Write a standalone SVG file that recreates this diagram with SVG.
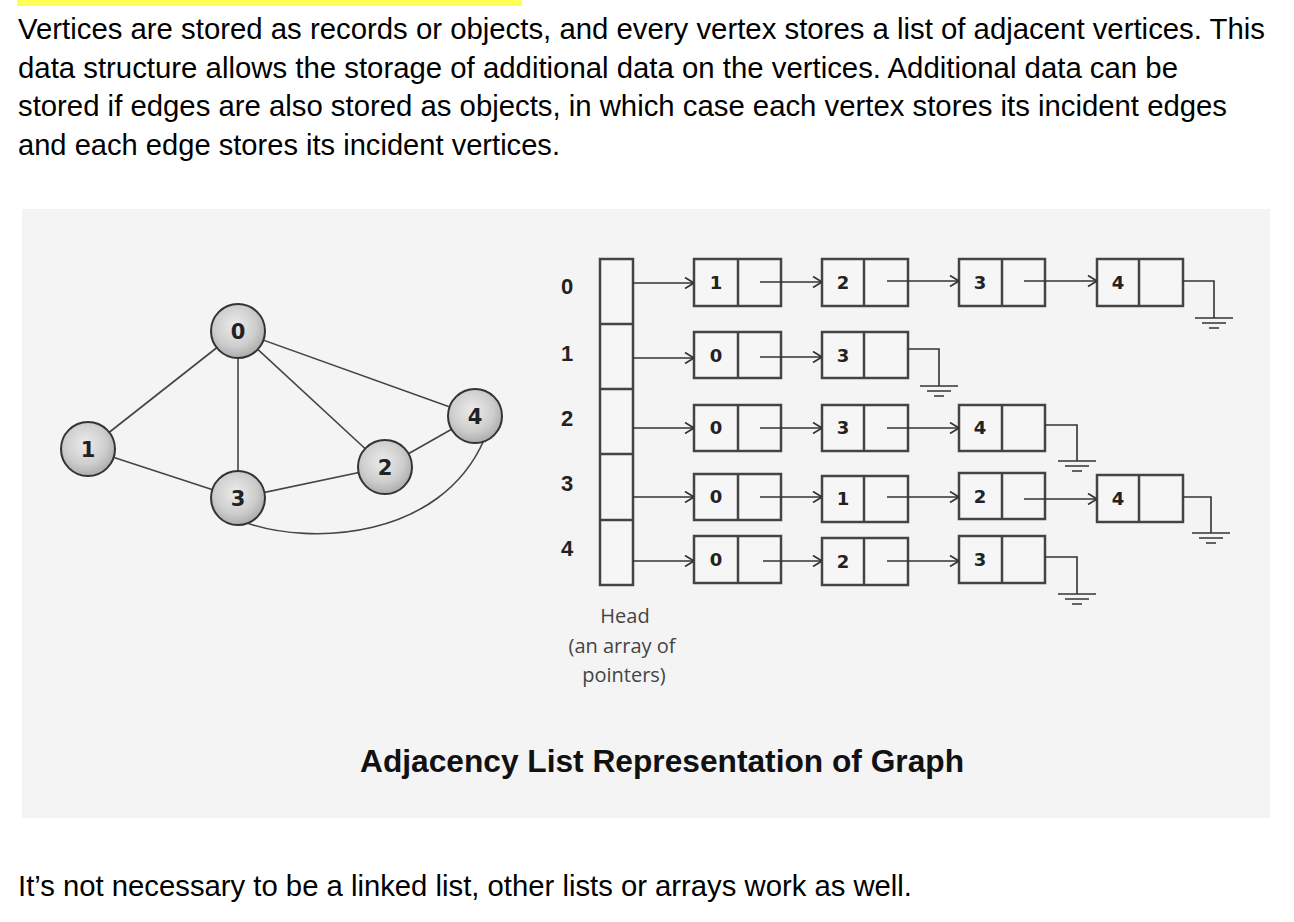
<svg xmlns="http://www.w3.org/2000/svg" width="1294" height="922" viewBox="0 0 1294 922">
<style>
.para{font-family:"Liberation Sans",Arial,sans-serif;font-size:29.3px;fill:#000}
.cap{font-family:"Liberation Sans",Arial,sans-serif;font-size:31.7px;font-weight:bold;fill:#111}
.rowlbl{font-family:"Liberation Sans",Arial,sans-serif;font-size:22px;font-weight:bold;fill:#222;text-anchor:middle}
.num{font-family:"DejaVu Sans",Verdana,sans-serif;font-size:18px;font-weight:bold;fill:#222;text-anchor:middle}
.nodelbl{font-family:"DejaVu Sans",Verdana,sans-serif;font-size:21px;font-weight:bold;fill:#222;text-anchor:middle}
.head{font-family:"Open Sans","Noto Sans",sans-serif;font-size:20px;fill:#444;text-anchor:middle}
.box{fill:#f6f6f6;stroke:#444;stroke-width:2.5}
.div{stroke:#444;stroke-width:2.5}
.arr{stroke:#333;stroke-width:1.6;fill:none}
.gnd{stroke:#333;stroke-width:1.6;fill:none}
.edge{stroke:#444;stroke-width:1.6;fill:none}
.vtx{fill:url(#vg);stroke:#333;stroke-width:2}
</style>
<defs>
<marker id="ah" viewBox="0 0 10 12" refX="10" refY="6" markerWidth="10" markerHeight="12" markerUnits="userSpaceOnUse" orient="auto">
<path d="M1,0.5 L10,6 L1,11.5" fill="none" stroke="#333" stroke-width="1.7"/>
</marker>
<radialGradient id="vg" cx="0.45" cy="0.4" r="0.65">
<stop offset="0" stop-color="#ececec"/>
<stop offset="0.6" stop-color="#cdcdcd"/>
<stop offset="1" stop-color="#a5a5a5"/>
</radialGradient>
<g id="ground">
<path class="gnd" d="M-19,0 H19 M-12,5 H12 M-5,10 H5"/>
</g>
</defs>
<rect width="1294" height="922" fill="#ffffff"/>
<rect x="17" y="0" width="505" height="6" fill="#ffff55"/>
<g id="paragraph">
<text class="para" x="18" y="39" textLength="1247" lengthAdjust="spacingAndGlyphs">Vertices are stored as records or objects, and every vertex stores a list of adjacent vertices. This</text>
<text class="para" x="18" y="78" textLength="1160" lengthAdjust="spacingAndGlyphs">data structure allows the storage of additional data on the vertices. Additional data can be</text>
<text class="para" x="18" y="116" textLength="1209" lengthAdjust="spacingAndGlyphs">stored if edges are also stored as objects, in which case each vertex stores its incident edges</text>
<text class="para" x="18" y="155" textLength="542" lengthAdjust="spacingAndGlyphs">and each edge stores its incident vertices.</text>
</g>
<rect id="panel" x="22" y="209" width="1248" height="609" fill="#f4f4f4"/>
<g id="graph-edges">
<line class="edge" x1="238" y1="331" x2="88" y2="449"/>
<line class="edge" x1="238" y1="331" x2="238" y2="498"/>
<line class="edge" x1="238" y1="331" x2="385" y2="467"/>
<line class="edge" x1="238" y1="331" x2="475" y2="416"/>
<line class="edge" x1="88" y1="449" x2="238" y2="498"/>
<line class="edge" x1="238" y1="498" x2="385" y2="467"/>
<line class="edge" x1="385" y1="467" x2="475" y2="416"/>
<path class="edge" d="M247,523 C310,545 440,540 484,440"/>
</g>
<g id="v0"><circle class="vtx" cx="238" cy="331" r="27"/><text class="nodelbl" x="238" y="339">0</text></g>
<g id="v1"><circle class="vtx" cx="88" cy="449" r="27"/><text class="nodelbl" x="88" y="457">1</text></g>
<g id="v2"><circle class="vtx" cx="385" cy="467" r="27"/><text class="nodelbl" x="385" y="475">2</text></g>
<g id="v3"><circle class="vtx" cx="238" cy="498" r="27"/><text class="nodelbl" x="238" y="506">3</text></g>
<g id="v4"><circle class="vtx" cx="475" cy="416" r="27"/><text class="nodelbl" x="475" y="424">4</text></g>
<g id="row-labels">
<text class="rowlbl" x="567" y="294">0</text>
<text class="rowlbl" x="567" y="361">1</text>
<text class="rowlbl" x="567" y="426">2</text>
<text class="rowlbl" x="567" y="491">3</text>
<text class="rowlbl" x="567" y="556">4</text>
</g>
<g id="head-array">
<rect class="box" x="600" y="259" width="33" height="326"/>
<path class="div" d="M600,324 H633 M600,389 H633 M600,454 H633 M600,520 H633"/>
</g>
<g id="head-label">
<text class="head" x="625" y="623">Head</text>
<text class="head" x="622" y="653">(an array of</text>
<text class="head" x="624" y="682">pointers)</text>
</g>
<g id="list-nodes">
<g id="r0c1"><rect class="box" x="694" y="259" width="87" height="47"/><line class="div" x1="738" y1="259" x2="738" y2="306"/><text class="num" x="716" y="289">1</text></g>
<g id="r0c2"><rect class="box" x="822" y="259" width="86" height="47"/><line class="div" x1="864" y1="259" x2="864" y2="306"/><text class="num" x="843" y="289">2</text></g>
<g id="r0c3"><rect class="box" x="959" y="259" width="86" height="47"/><line class="div" x1="1002" y1="259" x2="1002" y2="306"/><text class="num" x="980" y="289">3</text></g>
<g id="r0c4"><rect class="box" x="1097" y="259" width="86" height="47"/><line class="div" x1="1139" y1="259" x2="1139" y2="306"/><text class="num" x="1118" y="289">4</text></g>
<g id="r1c1"><rect class="box" x="694" y="332" width="87" height="46"/><line class="div" x1="738" y1="332" x2="738" y2="378"/><text class="num" x="716" y="362">0</text></g>
<g id="r1c2"><rect class="box" x="822" y="332" width="86" height="46"/><line class="div" x1="864" y1="332" x2="864" y2="378"/><text class="num" x="843" y="362">3</text></g>
<g id="r2c1"><rect class="box" x="694" y="405" width="87" height="46"/><line class="div" x1="738" y1="405" x2="738" y2="451"/><text class="num" x="716" y="434">0</text></g>
<g id="r2c2"><rect class="box" x="822" y="405" width="86" height="46"/><line class="div" x1="864" y1="405" x2="864" y2="451"/><text class="num" x="843" y="434">3</text></g>
<g id="r2c3"><rect class="box" x="959" y="405" width="86" height="46"/><line class="div" x1="1002" y1="405" x2="1002" y2="451"/><text class="num" x="980" y="434">4</text></g>
<g id="r3c1"><rect class="box" x="694" y="474" width="87" height="46"/><line class="div" x1="738" y1="474" x2="738" y2="520"/><text class="num" x="716" y="503">0</text></g>
<g id="r3c2"><rect class="box" x="822" y="476" width="86" height="46"/><line class="div" x1="864" y1="476" x2="864" y2="522"/><text class="num" x="843" y="505">1</text></g>
<g id="r3c3"><rect class="box" x="959" y="473" width="86" height="46"/><line class="div" x1="1002" y1="473" x2="1002" y2="519"/><text class="num" x="980" y="503">2</text></g>
<g id="r3c4"><rect class="box" x="1097" y="475" width="86" height="47"/><line class="div" x1="1139" y1="475" x2="1139" y2="522"/><text class="num" x="1118" y="505">4</text></g>
<g id="r4c1"><rect class="box" x="694" y="536" width="87" height="47"/><line class="div" x1="738" y1="536" x2="738" y2="583"/><text class="num" x="716" y="566">0</text></g>
<g id="r4c2"><rect class="box" x="822" y="538" width="86" height="47"/><line class="div" x1="864" y1="538" x2="864" y2="585"/><text class="num" x="843" y="568">2</text></g>
<g id="r4c3"><rect class="box" x="959" y="536" width="86" height="47"/><line class="div" x1="1002" y1="536" x2="1002" y2="583"/><text class="num" x="980" y="566">3</text></g>
</g>
<g id="connectors">
<line class="arr" x1="633" y1="283" x2="694" y2="283" marker-end="url(#ah)"/>
<line class="arr" x1="633" y1="358" x2="694" y2="358" marker-end="url(#ah)"/>
<line class="arr" x1="633" y1="428" x2="694" y2="428" marker-end="url(#ah)"/>
<line class="arr" x1="633" y1="497" x2="694" y2="497" marker-end="url(#ah)"/>
<line class="arr" x1="633" y1="561" x2="694" y2="561" marker-end="url(#ah)"/>
<line class="arr" x1="760" y1="282" x2="822" y2="282" marker-end="url(#ah)"/>
<line class="arr" x1="760" y1="357" x2="822" y2="357" marker-end="url(#ah)"/>
<line class="arr" x1="760" y1="428" x2="822" y2="428" marker-end="url(#ah)"/>
<line class="arr" x1="760" y1="497" x2="822" y2="497" marker-end="url(#ah)"/>
<line class="arr" x1="763" y1="561" x2="822" y2="561" marker-end="url(#ah)"/>
<line class="arr" x1="887" y1="281" x2="959" y2="281" marker-end="url(#ah)"/>
<line class="arr" x1="887" y1="428" x2="959" y2="428" marker-end="url(#ah)"/>
<line class="arr" x1="887" y1="497" x2="959" y2="497" marker-end="url(#ah)"/>
<line class="arr" x1="887" y1="561" x2="959" y2="561" marker-end="url(#ah)"/>
<line class="arr" x1="1024" y1="281" x2="1097" y2="281" marker-end="url(#ah)"/>
<line class="arr" x1="1024" y1="499" x2="1097" y2="499" marker-end="url(#ah)"/>
<path class="gnd" d="M1183,281 H1214 V318"/><use href="#ground" x="1214" y="318"/>
<path class="gnd" d="M908,349 H939 V386"/><use href="#ground" x="939" y="386"/>
<path class="gnd" d="M1045,425 H1077 V461"/><use href="#ground" x="1077" y="461"/>
<path class="gnd" d="M1183,497 H1211 V533"/><use href="#ground" x="1211" y="533"/>
<path class="gnd" d="M1045,557 H1077 V594"/><use href="#ground" x="1077" y="594"/>
</g>
<text id="caption" class="cap" x="662" y="772" text-anchor="middle" textLength="604" lengthAdjust="spacingAndGlyphs">Adjacency List Representation of Graph</text>
<text id="footer" class="para" x="18" y="896" textLength="894" lengthAdjust="spacingAndGlyphs">It’s not necessary to be a linked list, other lists or arrays work as well.</text>
</svg>
